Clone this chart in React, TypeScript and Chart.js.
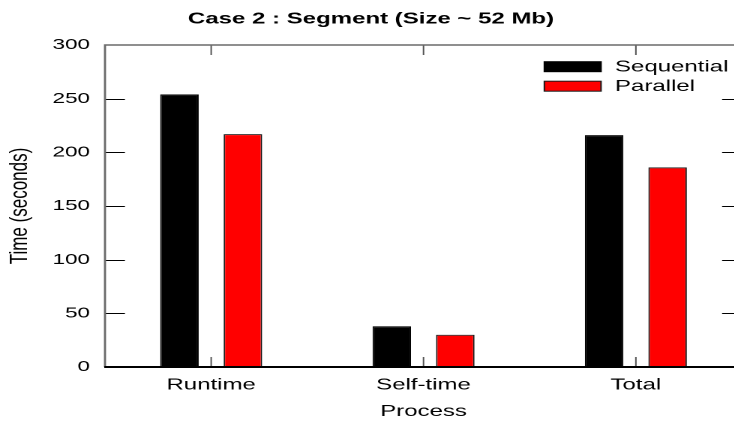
import React, { useEffect, useRef } from 'react';
import { Chart, registerables } from 'chart.js';

Chart.register(...registerables);

const categories = ['Runtime', 'Self-time', 'Total'];
const seriesLabels = ['Sequential', 'Parallel'];
const sequentialValues = [254, 38, 216];
const parallelValues = [217, 30, 186];
const yTickValues = [0, 50, 100, 150, 200, 250, 300];
const chartTitle = 'Case 2 : Segment (Size ~ 52 Mb)';
const xAxisTitle = 'Process';
const yAxisTitle = 'Time (seconds)';

const SX = 1.5;
const W = 565;
const H = 425;
const PLOT_RIGHT = 494.7;
const FONT = "'Liberation Sans', Arial, Helvetica, sans-serif";

const framePlugin = {
  id: 'frame',
  afterDatasetsDraw(chart: any) {
    const { ctx, chartArea: a, scales } = chart;
    const xs = scales.x;
    const ys = scales.y;
    ctx.save();
    // y tick marks (inward, mirrored)
    ctx.strokeStyle = '#000';
    ctx.lineWidth = 1;
    yTickValues.forEach((v) => {
      if (v === ys.min || v === ys.max) return;
      const py = Math.round(ys.getPixelForValue(v)) + 0.5;
      ctx.beginPath();
      ctx.moveTo(a.left, py);
      ctx.lineTo(a.left + 13.3, py);
      ctx.moveTo(a.right - 13.3, py);
      ctx.lineTo(a.right, py);
      ctx.stroke();
    });
    // x tick marks (inward, mirrored)
    ctx.strokeStyle = '#555';
    ctx.lineWidth = 1;
    categories.forEach((_c, i) => {
      const px = xs.getPixelForValue(i);
      ctx.beginPath();
      ctx.moveTo(px, a.bottom);
      ctx.lineTo(px, a.bottom - 10);
      ctx.moveTo(px, a.top);
      ctx.lineTo(px, a.top + 10);
      ctx.stroke();
    });
    // border
    ctx.strokeStyle = '#6a6a6a';
    ctx.lineWidth = 1.4;
    ctx.beginPath();
    ctx.moveTo(a.left, a.bottom);
    ctx.lineTo(a.left, a.top);
    ctx.lineTo(a.right, a.top);
    ctx.lineTo(a.right, a.bottom);
    ctx.stroke();
    ctx.strokeStyle = '#000';
    ctx.lineWidth = 2;
    ctx.beginPath();
    ctx.moveTo(a.left - 0.5, a.bottom);
    ctx.lineTo(a.right, a.bottom);
    ctx.stroke();
    ctx.restore();
  },
  afterDraw(chart: any) {
    const { ctx, chartArea: a } = chart;
    const datasets = chart.data.datasets;
    ctx.save();
    const swLeft = a.right - 131.8;
    const swW = 37.8;
    const textX = a.right - 84.7;
    ctx.font = `16px ${FONT}`;
    ctx.textBaseline = 'middle';
    ctx.textAlign = 'left';
    datasets.forEach((ds: any, i: number) => {
      const cy = a.top + 21.7 + i * 19.5;
      ctx.fillStyle = ds.backgroundColor;
      ctx.fillRect(swLeft, cy - 5, swW, 10);
      ctx.strokeStyle = ds.borderColor;
      ctx.lineWidth = 1;
      ctx.strokeRect(swLeft, cy - 5, swW, 10);
      ctx.fillStyle = '#000';
      ctx.fillText(ds.label, textX, cy + 0.5);
    });
    ctx.restore();
  },
};

export default function App() {
  const ref = useRef<HTMLCanvasElement>(null);

  useEffect(() => {
    if (!ref.current) return;
    const chart = new Chart(ref.current, {
      type: 'bar',
      data: {
        labels: categories,
        datasets: [
          {
            label: seriesLabels[0],
            data: sequentialValues,
            backgroundColor: '#000000',
            borderColor: '#000000',
            borderWidth: 1,
            categoryPercentage: 0.598,
            barPercentage: 0.607,
          },
          {
            label: seriesLabels[1],
            data: parallelValues,
            backgroundColor: '#ff0000',
            borderColor: '#1a1a1a',
            borderWidth: 1,
            categoryPercentage: 0.598,
            barPercentage: 0.607,
          },
        ],
      },
      options: {
        responsive: false,
        animation: false,
        devicePixelRatio: 2,
        layout: { padding: { left: 0, right: W - PLOT_RIGHT, top: 0, bottom: 0 } },
        plugins: {
          legend: { display: false },
          tooltip: { enabled: false },
          title: {
            display: true,
            text: chartTitle,
            color: '#000',
            font: { family: FONT, size: 16, weight: 'bold', lineHeight: 1.2 },
            padding: { top: 9.4, bottom: 45 - 9.4 - 19.2 },
          },
        },
        scales: {
          x: {
            type: 'category',
            offset: true,
            grid: { display: false, drawTicks: false },
            border: { display: false },
            ticks: { color: '#000', font: { family: FONT, size: 16 }, padding: 8.5 },
            title: {
              display: true,
              text: xAxisTitle,
              color: '#000',
              font: { family: FONT, size: 16 },
              padding: { top: 4, bottom: 4 },
            },
            afterFit: (s: any) => {
              s.height = 58;
            },
          },
          y: {
            min: 0,
            max: 300,
            grid: { display: false, drawTicks: false },
            border: { display: false },
            afterBuildTicks: (s: any) => {
              s.ticks = yTickValues.map((v) => ({ value: v }));
            },
            ticks: { color: '#000', font: { family: FONT, size: 15 }, padding: 10 },
            title: {
              display: true,
              text: yAxisTitle,
              color: '#000',
              font: { family: FONT, size: 17 },
              padding: { top: 3, bottom: 3 },
            },
            afterFit: (s: any) => {
              s.width = 70;
            },
          },
        },
      },
      plugins: [framePlugin],
    });
    return () => chart.destroy();
  }, []);

  return (
    <div
      style={{
        position: 'absolute',
        left: 0,
        top: 0,
        width: 734,
        height: 425,
        overflow: 'hidden',
        background: '#fff',
      }}
    >
      <canvas
        ref={ref}
        width={W}
        height={H}
        style={{
          width: W,
          height: H,
          display: 'block',
          transform: `scale(${SX}, 1)`,
          transformOrigin: '0 0',
        }}
      />
    </div>
  );
}
